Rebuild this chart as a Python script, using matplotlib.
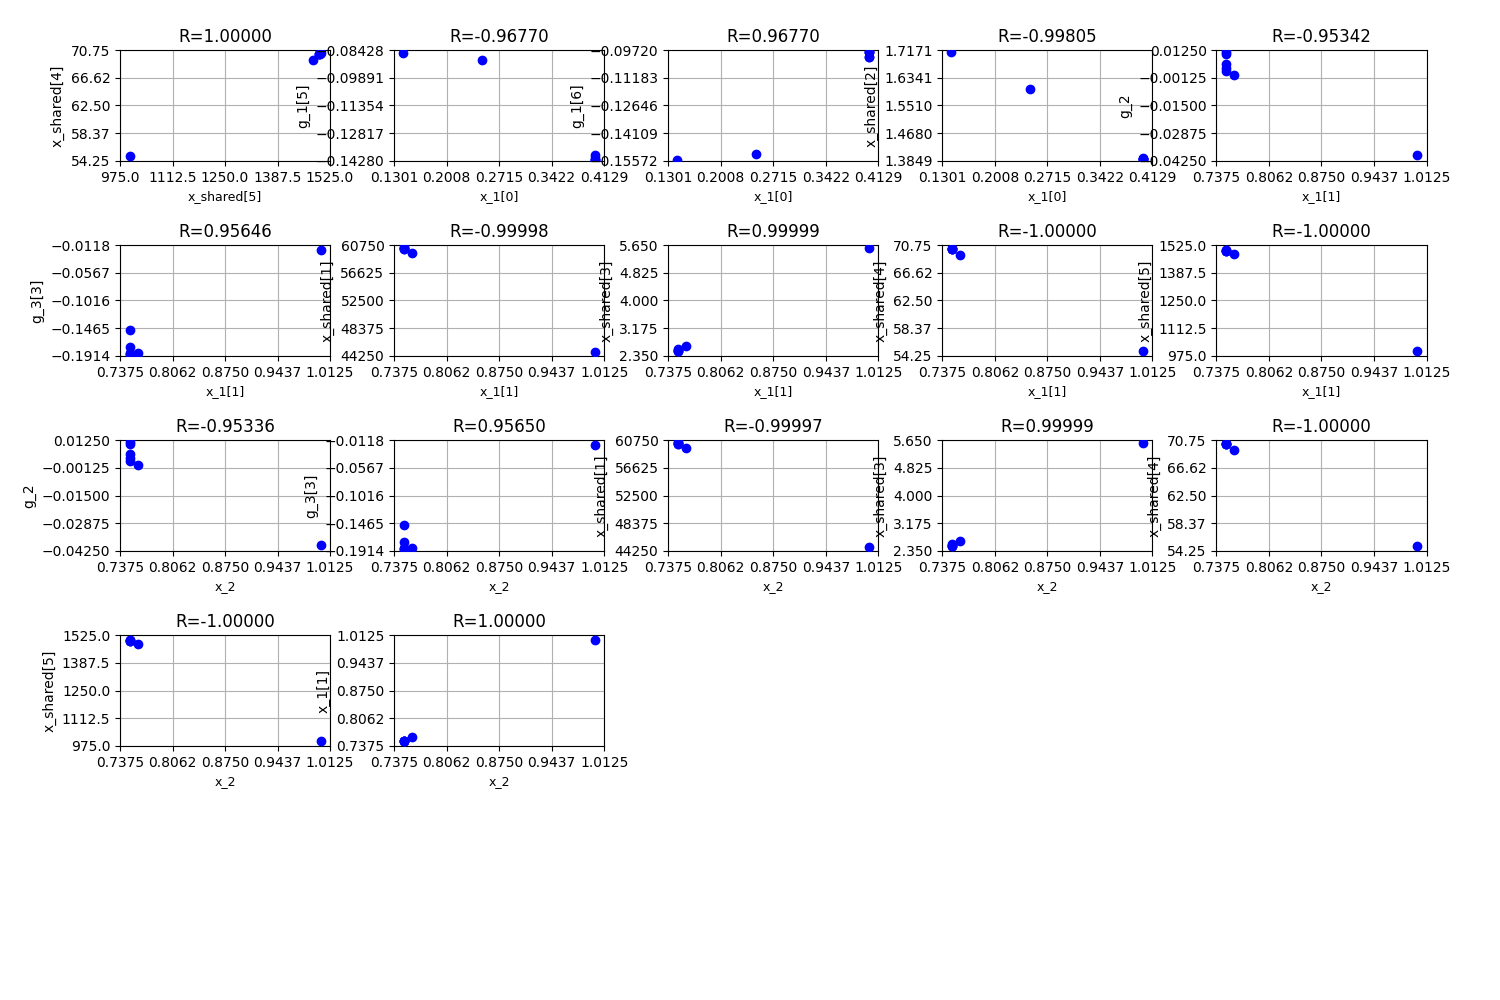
import matplotlib
matplotlib.use("Agg")
import matplotlib.pyplot as plt
import numpy as np

# sample values per variable (7 samples)
samples = {
    "x_1[0]": [0.400, 0.400, 0.400, 0.400, 0.400, 0.2486, 0.1422],
    "x_1[1]": [0.7506, 0.7506, 0.7506, 0.7506, 0.7506, 0.761, 1.000],
    "x_2": [0.7506, 0.7506, 0.7506, 0.7506, 0.7506, 0.761, 1.000],
    "g_1[5]": [-0.1395, -0.1410, -0.1425, -0.1425, -0.1425, -0.0898, -0.0858],
    "g_1[6]": [-0.0985, -0.1010, -0.1010, -0.0985, -0.0985, -0.1520, -0.1550],
    "g_2": [0.0115, 0.0105, 0.0055, 0.0035, 0.0020, 0.0000, -0.0395],
    "g_3[3]": [-0.150, -0.177, -0.186, -0.188, -0.188, -0.187, -0.020],
    "x_shared[1]": [60400, 60300, 60300, 60200, 60200, 59500, 44900],
    "x_shared[2]": [1.393, 1.392, 1.392, 1.391, 1.391, 1.600, 1.710],
    "x_shared[3]": [2.50, 2.52, 2.55, 2.50, 2.50, 2.65, 5.55],
    "x_shared[4]": [70.3, 70.2, 70.1, 70.2, 70.2, 69.3, 55.0],
    "x_shared[5]": [1500, 1498, 1495, 1497, 1496, 1480, 1000],
}

# axis range per variable
limits = {
    "x_1[0]": (0.1301, 0.4129),
    "x_1[1]": (0.7375, 1.0125),
    "x_2": (0.7375, 1.0125),
    "g_1[5]": (-0.14280, -0.08428),
    "g_1[6]": (-0.15572, -0.09720),
    "g_2": (-0.04250, 0.01250),
    "g_3[3]": (-0.1914, -0.0118),
    "x_shared[1]": (44250, 60750),
    "x_shared[2]": (1.3849, 1.7171),
    "x_shared[3]": (2.350, 5.650),
    "x_shared[4]": (54.25, 70.75),
    "x_shared[5]": (975.0, 1525.0),
}

# tick labels as printed in the reference
tick_labels = {
    "x_1[0]": ["0.1301", "0.2008", "0.2715", "0.3422", "0.4129"],
    "x_1[1]": ["0.7375", "0.8062", "0.8750", "0.9437", "1.0125"],
    "x_2": ["0.7375", "0.8062", "0.8750", "0.9437", "1.0125"],
    "g_1[5]": ["\u22120.14280", "\u22120.12817", "\u22120.11354", "\u22120.09891", "\u22120.08428"],
    "g_1[6]": ["\u22120.15572", "\u22120.14109", "\u22120.12646", "\u22120.11183", "\u22120.09720"],
    "g_2": ["\u22120.04250", "\u22120.02875", "\u22120.01500", "\u22120.00125", "0.01250"],
    "g_3[3]": ["\u22120.1914", "\u22120.1465", "\u22120.1016", "\u22120.0567", "\u22120.0118"],
    "x_shared[1]": ["44250", "48375", "52500", "56625", "60750"],
    "x_shared[2]": ["1.3849", "1.4680", "1.5510", "1.6341", "1.7171"],
    "x_shared[3]": ["2.350", "3.175", "4.000", "4.825", "5.650"],
    "x_shared[4]": ["54.25", "58.37", "62.50", "66.62", "70.75"],
    "x_shared[5]": ["975.0", "1112.5", "1250.0", "1387.5", "1525.0"],
}

pairs = [
    ("x_shared[5]", "x_shared[4]"), ("x_1[0]", "g_1[5]"), ("x_1[0]", "g_1[6]"),
    ("x_1[0]", "x_shared[2]"), ("x_1[1]", "g_2"), ("x_1[1]", "g_3[3]"),
    ("x_1[1]", "x_shared[1]"), ("x_1[1]", "x_shared[3]"), ("x_1[1]", "x_shared[4]"),
    ("x_1[1]", "x_shared[5]"), ("x_2", "g_2"), ("x_2", "g_3[3]"),
    ("x_2", "x_shared[1]"), ("x_2", "x_shared[3]"), ("x_2", "x_shared[4]"),
    ("x_2", "x_shared[5]"), ("x_2", "x_1[1]"),
]
r_values = ["1.00000", "-0.96770", "0.96770", "-0.99805", "-0.95342", "0.95646",
            "-0.99998", "0.99999", "-1.00000", "-1.00000", "-0.95336", "0.95650",
            "-0.99997", "0.99999", "-1.00000", "-1.00000", "1.00000"]

fig, axes = plt.subplots(5, 5, figsize=(15, 10))
fig.subplots_adjust(left=0.08, right=0.951, top=0.95, bottom=0.059,
                    wspace=0.305, hspace=0.757)
axes = axes.ravel()

for i, ax in enumerate(axes):
    if i >= len(pairs):
        ax.remove()
        continue
    xn, yn = pairs[i]
    ax.scatter(samples[xn], samples[yn], color="blue", zorder=3)
    x0, x1 = limits[xn]
    y0, y1 = limits[yn]
    ax.set_xlim(x0, x1)
    ax.set_ylim(y0, y1)
    ax.set_xticks(np.linspace(x0, x1, 5), tick_labels[xn])
    ax.set_yticks(np.linspace(y0, y1, 5), tick_labels[yn])
    ax.grid(True)
    ax.set_xlabel(xn, fontsize=9)
    ax.set_ylabel(yn, fontsize=10)
    ax.set_title(f"R={r_values[i]}")

fig.savefig("out.png", dpi=100)
